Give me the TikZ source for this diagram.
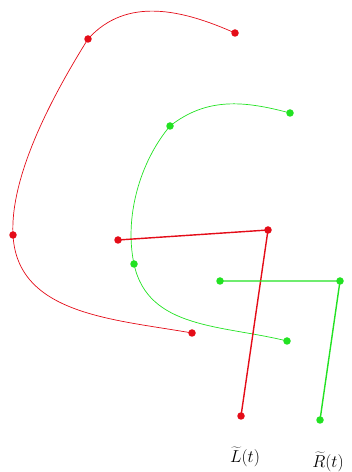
\documentclass[tikz,border=0pt]{standalone}
\definecolor{ptred}{RGB}{228,12,24}
\definecolor{ptgreen}{RGB}{34,226,34}
\tikzset{dot/.style={circle,fill=#1,inner sep=0pt,minimum size=7.5pt},
  curve/.style={draw=#1,line width=.7pt},
  bar/.style={draw=#1,line width=1.4pt}}
\begin{document}
\begin{tikzpicture}[x=1pt,y=1pt,font=\fontsize{16}{19}\selectfont]
\useasboundingbox(0,0)rectangle(352,472);
% control points of the two curves
\foreach \n/\x/\y in {a1/235/439,a2/88/433,a3/13/237,a4/192/139}\coordinate(\n)at(\x,\y);
\foreach \n/\x/\y in {b1/290/359,b2/170/346,b3/134/208,b4/287/131}\coordinate(\n)at(\x,\y);
% the two polylines
\foreach \n/\x/\y in {c1/118/232,c2/268/242,c3/241/56}\coordinate(\n)at(\x,\y);
\foreach \n/\x/\y in {d1/220/191,d2/340/191,d3/320/52}\coordinate(\n)at(\x,\y);
\draw[curve=ptred](a1)to[out=156,in=48](a2)to[out=238,in=93,looseness=.75](a3)to[out=273,in=170](a4);
\draw[curve=ptgreen](b1)to[out=165,in=38](b2)to[out=230,in=102,looseness=.85](b3)to[out=282,in=166](b4);
\draw[bar=ptred](c1)--(c2)--(c3);
\draw[bar=ptgreen](d1)--(d2)--(d3);
\foreach \n in {a1,a2,a3,a4,c1,c2,c3}\node[dot=ptred]at(\n){};
\foreach \n in {b1,b2,b3,b4,d1,d2,d3}\node[dot=ptgreen]at(\n){};
\node(labL)at(245,15){$\widetilde{L}(t)$};
\node(labR)at(328,10){$\widetilde{R}(t)$};
\end{tikzpicture}
\end{document}
